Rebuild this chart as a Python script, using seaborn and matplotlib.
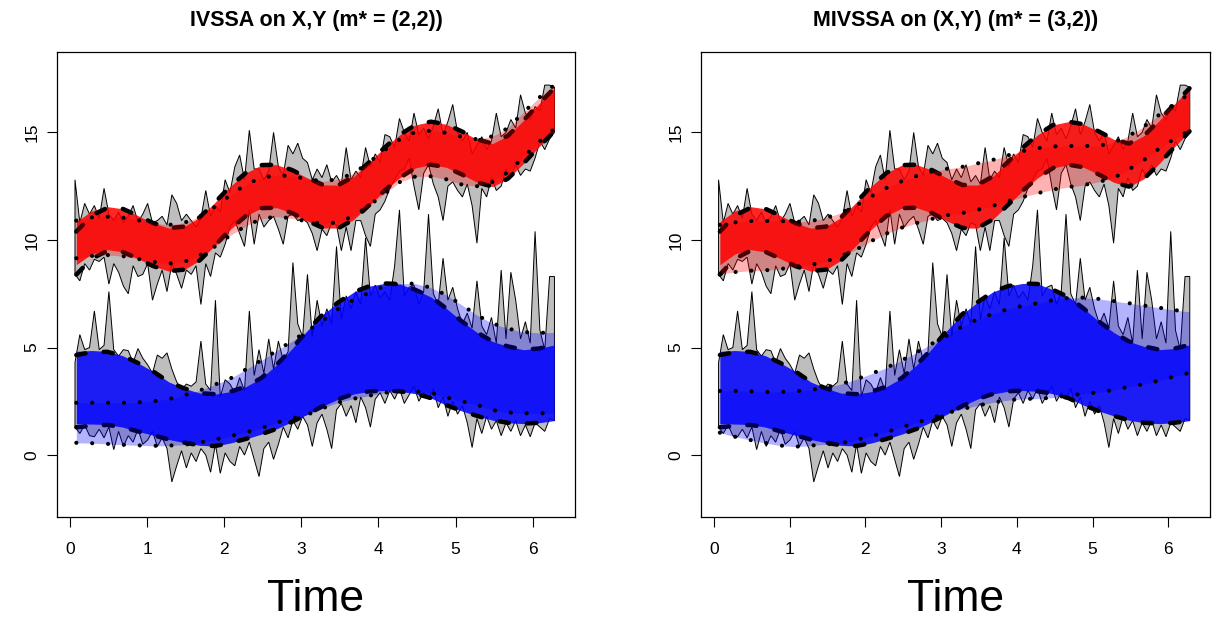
import numpy as np
import matplotlib
matplotlib.use("Agg")
import matplotlib.pyplot as plt
import seaborn as sns

# tiempos de observacion (100 puntos en (0, 2*pi])
time_obs = np.arange(1, 101) * 2 * np.pi / 100
# malla para las curvas suaves
time_s = [0.08, 0.28, 0.48, 0.68, 0.88, 1.08, 1.28, 1.48, 1.68, 1.88, 2.08, 2.28, 2.48, 2.68, 2.88, 3.08,
          3.28, 3.48, 3.68, 3.88, 4.08, 4.28, 4.48, 4.68, 4.88, 5.08, 5.28, 5.48, 5.68, 5.88, 6.08, 6.28]

# serie X observada (intervalo ruidoso)
x_obs_up = [12.8, 10.8, 11.7, 11.2, 11.6, 11.0, 12.4, 11.2, 10.9, 11.3,
            10.8, 11.1, 11.6, 10.85, 11.2, 11.7, 10.8, 10.9, 11.1, 10.7,
            12.1, 11.7, 10.9, 11.2, 10.9, 10.6, 11.0, 12.3, 11.1, 11.6,
            11.3, 12.8, 12.2, 13.4, 13.95, 12.8, 15.1, 13.3, 13.3, 12.8,
            13.2, 15.0, 13.4, 13.0, 14.4, 14.0, 14.5, 13.8, 13.6, 12.8,
            13.3, 12.9, 13.5, 12.7, 13.0, 12.6, 14.3, 12.8, 13.2, 12.9,
            14.3, 13.4, 14.0, 13.6, 14.9, 14.8, 14.3, 15.65, 15.0, 14.6,
            15.9, 14.9, 15.2, 14.7, 15.3, 16.1, 14.9, 15.5, 16.3, 15.0,
            14.6, 15.0, 14.0, 14.4, 14.8, 14.2, 14.6, 15.9, 14.8, 15.0,
            15.6, 15.2, 16.75, 15.9, 15.6, 16.2, 16.0, 17.2, 17.2, 17.1]
x_obs_lo = [8.4, 8.1, 8.9, 8.6, 9.1, 9.0, 9.2, 7.95, 8.9, 8.5,
            7.85, 7.5, 8.8, 8.3, 8.4, 8.9, 7.2, 7.95, 8.6, 7.6,
            8.9, 8.4, 7.75, 8.6, 8.4, 8.8, 7.0, 8.9, 8.3, 9.4,
            9.2, 9.8, 10.6, 10.9, 10.3, 9.7, 11.4, 9.8, 11.2, 10.6,
            10.9, 11.1, 10.5, 9.8, 11.1, 11.2, 10.9, 11.0, 10.8, 10.3,
            9.5, 10.5, 10.2, 10.8, 10.7, 9.5, 10.6, 9.5, 10.9, 10.9,
            10.2, 9.7, 11.2, 11.4, 11.8, 12.4, 12.8, 13.2, 13.3, 13.8,
            12.5, 11.4, 13.1, 13.5, 12.6, 12.0, 10.9, 12.5, 12.7, 12.3,
            12.0, 12.6, 11.6, 9.85, 12.4, 12.0, 12.9, 12.3, 12.5, 13.3,
            12.9, 13.5, 13.0, 13.3, 13.2, 13.8, 14.6, 14.2, 14.7, 15.0]

# serie Y observada
y_obs_up = [4.3, 5.6, 4.9, 5.0, 6.7, 4.9, 5.1, 7.6, 4.9, 4.6,
            4.9, 4.85, 4.3, 4.95, 4.5, 4.2, 3.8, 4.65, 4.5, 4.75,
            4.0, 3.4, 3.05, 3.3, 3.2, 3.4, 5.3, 3.3, 3.0, 7.2,
            2.7, 3.5, 3.3, 2.9, 3.6, 3.0, 6.7, 3.7, 4.9, 3.8,
            5.4, 4.0, 5.3, 4.4, 4.8, 8.95, 6.1, 5.5, 8.4, 5.5,
            7.2, 6.0, 6.8, 6.1, 9.7, 6.3, 7.4, 6.8, 7.6, 7.0,
            10.1, 7.4, 7.9, 7.3, 7.6, 7.2, 8.8, 11.4, 7.4, 7.8,
            7.9, 7.0, 7.6, 11.2, 7.5, 7.0, 9.15, 7.2, 7.8, 6.8,
            6.1, 6.6, 5.9, 8.1, 6.0, 5.6, 6.4, 5.2, 8.6, 5.4,
            8.5, 7.2, 5.4, 6.2, 5.2, 10.4, 5.8, 4.9, 8.3, 8.3]
y_obs_lo = [1.3, 1.0, 1.4, 0.9, 0.85, 1.2, 0.8, 1.3, 0.25, 1.1,
            0.4, 0.9, 0.6, 1.2, 0.5, 0.7, 1.1, 0.4, 0.8, 0.3,
            -1.25, -0.5, 0.2, -0.6, 0.1, -0.3, 0.3, 0.0, -0.8, 0.5,
            -0.85, 0.1, -0.3, -0.5, 0.4, 0.0, 0.6, -0.2, -1.0, 0.3,
            0.6, -0.2, 0.5, 1.3, 0.8, 1.6, 1.2, 1.8, 1.4, 0.4,
            1.5, 1.9, 1.2, 0.3, 2.1, 2.4, 1.8, 2.3, 1.5, 2.7,
            2.2, 1.3, 2.6, 2.9, 2.4, 3.0, 2.6, 3.1, 2.4, 2.8,
            3.2, 2.5, 2.9, 2.6, 3.1, 2.2, 2.7, 1.8, 2.5, 1.9,
            2.3, 1.5, 0.35, 1.7, 1.0, 1.8, 1.2, 1.6, 0.9, 1.5,
            1.1, 1.6, 0.9, 1.4, 0.85, 1.5, 1.3, 1.1, 1.7, 1.6]

# senal verdadera (banda solida)
x_true_up = [10.85, 11.35, 11.55, 11.45, 11.13, 10.78, 10.55, 10.62, 11.05, 11.75, 12.50, 13.12, 13.48, 13.50, 13.25, 12.88,
             12.56, 12.55, 12.95, 13.62, 14.30, 14.90, 15.35, 15.50, 15.38, 15.05, 14.68, 14.48, 14.85, 15.55, 16.32, 17.05]
x_true_lo = [8.85, 9.35, 9.55, 9.45, 9.13, 8.78, 8.55, 8.62, 9.05, 9.75, 10.50, 11.12, 11.48, 11.50, 11.25, 10.88,
             10.56, 10.55, 10.95, 11.62, 12.30, 12.90, 13.35, 13.50, 13.38, 13.05, 12.68, 12.48, 12.85, 13.55, 14.32, 15.05]
y_true_up = [4.82, 4.86, 4.82, 4.62, 4.28, 3.88, 3.40, 3.10, 2.88, 2.83, 2.95, 3.18, 3.58, 4.20, 4.95, 5.80,
             6.55, 7.10, 7.58, 7.85, 7.98, 7.95, 7.68, 7.35, 6.82, 6.22, 5.70, 5.28, 5.05, 4.90, 4.95, 5.12]
y_true_lo = [1.46, 1.44, 1.42, 1.30, 1.10, 0.92, 0.72, 0.58, 0.45, 0.42, 0.56, 0.75, 0.97, 1.22, 1.55, 1.90,
             2.28, 2.60, 2.84, 2.96, 3.00, 2.96, 2.85, 2.65, 2.32, 2.05, 1.82, 1.62, 1.50, 1.46, 1.50, 1.60]

# reconstruccion (lineas discontinuas)
x_rec_up = [10.39, 11.13, 11.49] + x_true_up[3:]
x_rec_lo = [8.39, 9.13, 9.49] + x_true_lo[3:]
y_rec_up = [4.65, 4.78, 4.80] + y_true_up[3:]
y_rec_lo = [1.29, 1.36, 1.40] + y_true_lo[3:]

# estimaciones IVSSA (punteadas, panel izquierdo)
x_iv_up = [10.90, 11.05, 11.08, 11.04, 10.92, 10.78, 10.70, 10.80, 11.08, 11.55, 12.09, 12.58, 12.90, 13.00, 12.97, 12.82,
           12.73, 12.83, 13.10, 13.62, 14.18, 14.68, 15.02, 15.08, 14.98, 14.80, 14.68, 14.82, 15.20, 15.93, 16.60, 17.20]
x_iv_lo = [9.15, 9.26, 9.30, 9.25, 9.12, 8.98, 8.90, 8.98, 9.28, 9.70, 10.22, 10.65, 10.98, 11.09, 11.00, 10.86,
           10.75, 10.82, 11.12, 11.60, 12.15, 12.70, 12.95, 12.96, 12.82, 12.58, 12.50, 12.70, 13.15, 13.85, 14.55, 15.15]
y_iv_up = [2.43, 2.43, 2.43, 2.43, 2.45, 2.50, 2.60, 2.78, 3.00, 3.28, 3.56, 3.98, 4.40, 4.85, 5.30, 5.78,
           6.25, 6.80, 7.22, 7.55, 7.85, 7.97, 7.97, 7.78, 7.44, 6.98, 6.50, 6.12, 5.88, 5.72, 5.68, 5.70]
y_iv_lo = [0.57, 0.55, 0.52, 0.48, 0.45, 0.43, 0.44, 0.48, 0.58, 0.72, 0.88, 1.05, 1.25, 1.50, 1.70, 1.88,
           2.18, 2.45, 2.62, 2.76, 2.90, 2.95, 2.95, 2.90, 2.68, 2.50, 2.33, 2.09, 1.98, 1.94, 1.94, 1.94]

# estimaciones MIVSSA (punteadas, panel derecho)
x_miv_up = [10.70, 10.82, 10.88, 10.88, 10.88, 10.84, 10.88, 11.02, 11.27, 11.60, 12.03, 12.42, 12.73, 12.98, 13.18, 13.31,
            13.40, 13.56, 13.72, 13.93, 14.13, 14.27, 14.35, 14.37, 14.37, 14.38, 14.52, 14.84, 15.28, 15.82, 16.32, 16.80]
x_miv_lo = [8.42, 8.51, 8.57, 8.59, 8.65, 8.75, 8.84, 9.00, 9.25, 9.55, 9.95, 10.30, 10.57, 10.79, 10.98, 11.15,
            11.25, 11.40, 11.58, 11.80, 12.00, 12.18, 12.35, 12.46, 12.55, 12.70, 12.88, 13.28, 13.72, 14.25, 14.70, 15.08]
y_miv_up = [2.98, 2.98, 2.96, 2.93, 2.93, 2.97, 3.03, 3.14, 3.30, 3.52, 3.78, 4.06, 4.40, 4.78, 5.18, 5.55,
            5.98, 6.31, 6.56, 6.78, 6.94, 7.06, 7.20, 7.30, 7.32, 7.26, 7.16, 7.06, 6.95, 6.85, 6.74, 6.66]
y_miv_lo = [1.04, 0.85, 0.70, 0.56, 0.44, 0.39, 0.44, 0.50, 0.55, 0.70, 0.88, 1.06, 1.30, 1.50, 1.72, 1.95,
            2.14, 2.30, 2.44, 2.55, 2.61, 2.62, 2.67, 2.77, 2.84, 2.91, 3.03, 3.17, 3.30, 3.46, 3.65, 3.82]

titles = ["IVSSA on X,Y (m* = (2,2))", "MIVSSA on (X,Y) (m* = (3,2))"]
estimates = [(x_iv_up, x_iv_lo, y_iv_up, y_iv_lo), (x_miv_up, x_miv_lo, y_miv_up, y_miv_lo)]

sns.set_theme(style="white")
plt.rcParams['font.family'] = ['Liberation Sans', 'DejaVu Sans']
plt.rcParams['text.color'] = 'black'
plt.rcParams['axes.labelcolor'] = 'black'
plt.rcParams['xtick.color'] = 'black'
plt.rcParams['ytick.color'] = 'black'

fig = plt.figure(figsize=(12.19, 6.24), dpi=100)
axes = [fig.add_axes([0.0468, 0.1715, 0.4249, 0.7452]),
        fig.add_axes([0.5750, 0.1715, 0.4176, 0.7452])]

DASH = (0, (2.1, 4.1))
DOT = (0, (0.01, 3.8))


def draw_series(ax, obs_up, obs_lo, true_up, true_lo, rec_up, rec_lo, est_up, est_lo, col):
    # intervalo observado (poligono gris)
    px = np.r_[time_obs, time_obs[::-1]]
    py = np.r_[np.array(obs_lo), np.array(obs_up)[::-1]]
    ax.fill(px, py, facecolor="#bebebe", edgecolor="black", linewidth=0.7, zorder=1)
    # senal verdadera
    ax.fill_between(time_s, true_lo, true_up, color=col, alpha=0.85, linewidth=0, zorder=2)
    # reconstruccion discontinua
    for yy in (rec_up, rec_lo):
        sns.lineplot(x=time_s, y=yy, ax=ax, color="black", linewidth=3.2, linestyle=DASH,
                     dash_capstyle="round", sort=False, zorder=3)
    # estimacion
    ax.fill_between(time_s, est_lo, est_up, color=col, alpha=0.3, linewidth=0, zorder=4)
    for yy in (est_up, est_lo):
        sns.lineplot(x=time_s, y=yy, ax=ax, color="black", linewidth=3.0, linestyle=DOT,
                     dash_capstyle="round", sort=False, zorder=5)


for ax, title, (xu, xl, yu, yl) in zip(axes, titles, estimates):
    draw_series(ax, x_obs_up, x_obs_lo, x_true_up, x_true_lo, x_rec_up, x_rec_lo, xu, xl, "red")
    draw_series(ax, y_obs_up, y_obs_lo, y_true_up, y_true_lo, y_rec_up, y_rec_lo, yu, yl, "blue")

    ax.set_xlim(-0.17, 6.55)
    ax.set_ylim(-2.88, 18.74)
    ax.set_xticks(range(0, 7))
    ax.set_yticks([0, 5, 10, 15])
    ax.tick_params(direction="out", length=7, width=0.8, labelsize=12.5,
                   bottom=True, left=True, colors="black")
    ax.tick_params(axis="x", pad=11)
    ax.tick_params(axis="y", pad=5.5)
    for lbl in ax.get_yticklabels():
        lbl.set_rotation(90)
        lbl.set_va("center")
    for sp in ax.spines.values():
        sp.set_color("black")
        sp.set_linewidth(0.9)
    ax.set_title(title, fontsize=15.5, fontweight="bold", pad=19, color="black")
    ax.set_xlabel("Time", fontsize=32, labelpad=16, color="black")
    ax.set_ylabel("")

fig.savefig("out.png", dpi=100)
